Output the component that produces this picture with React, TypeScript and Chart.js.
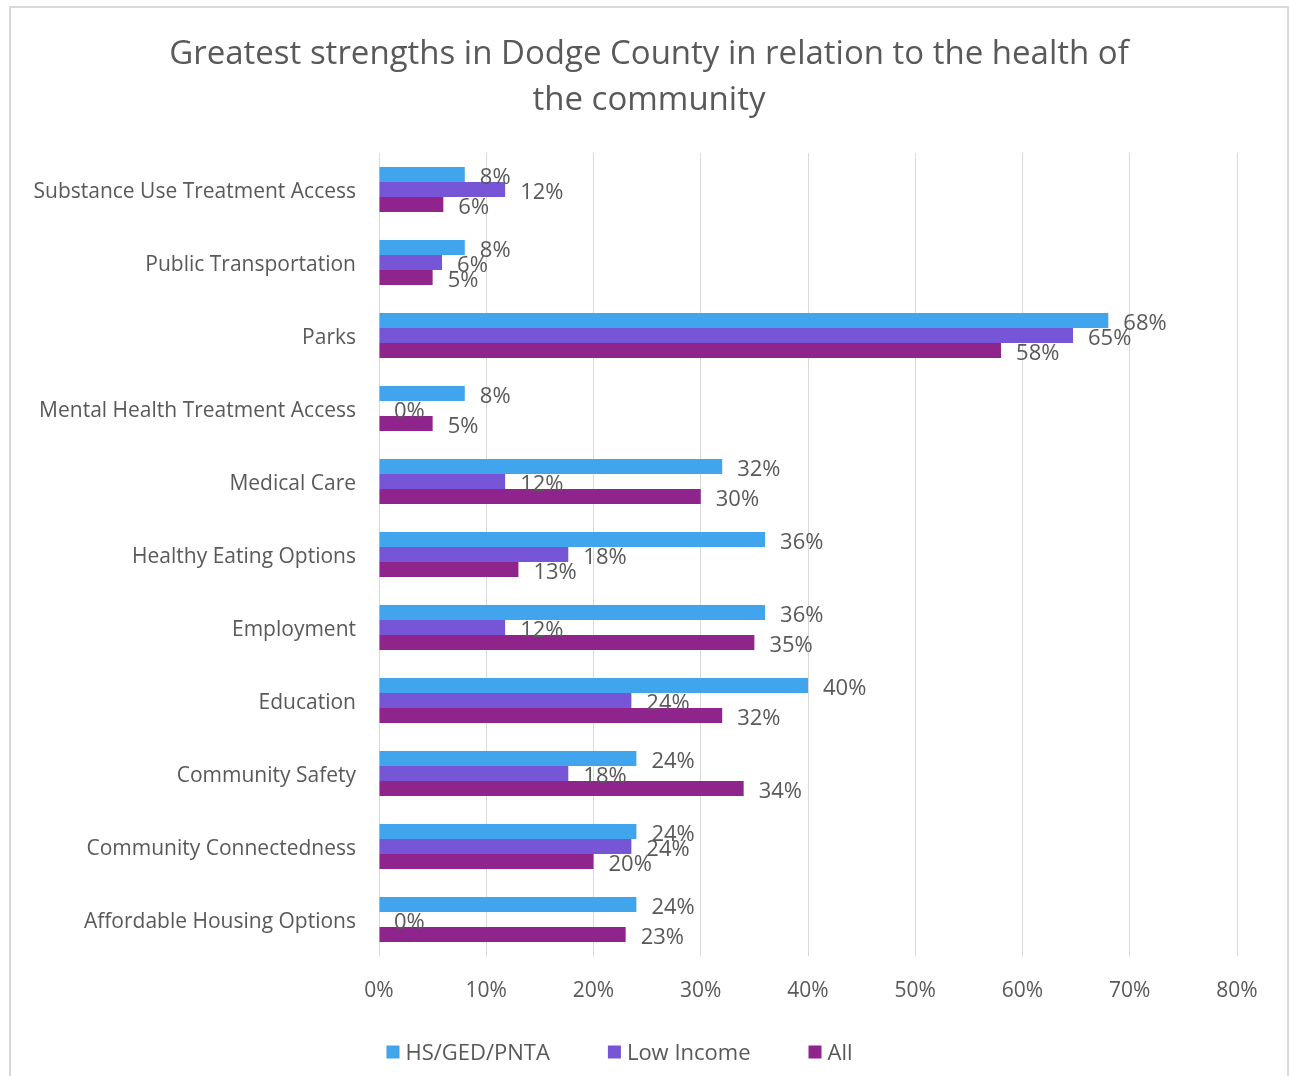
import React, { useEffect, useRef } from "react";
import { Chart, registerables } from "chart.js";

Chart.register(...registerables);

const categories = [
  "Substance Use Treatment Access",
  "Public Transportation",
  "Parks",
  "Mental Health Treatment Access",
  "Medical Care",
  "Healthy Eating Options",
  "Employment",
  "Education",
  "Community Safety",
  "Community Connectedness",
  "Affordable Housing Options",
];

const hsValues = [8, 8, 68, 8, 32, 36, 36, 40, 24, 24, 24];
const lowIncomeValues = [11.76, 5.88, 64.71, 0, 11.76, 17.65, 11.76, 23.53, 17.65, 23.53, 0];
const allValues = [6, 5, 58, 5, 30, 13, 35, 32, 34, 20, 23];

const seriesNames = ["HS/GED/PNTA", "Low Income", "All"];
const seriesColors = ["#41A5EE", "#7656D6", "#8E248C"];

const xTicks = [0, 10, 20, 30, 40, 50, 60, 70, 80];

const titleLines = [
  "Greatest strengths in Dodge County in relation to the health of",
  "the community",
];

const FONT = "'Open Sans', 'Noto Sans', sans-serif";
const TEXT = "#595959";

const titlePlugin = {
  id: "customTitle",
  afterDraw(chart: any) {
    const ctx = chart.ctx;
    ctx.save();
    ctx.font = `33px ${FONT}`;
    ctx.fillStyle = TEXT;
    ctx.textAlign = "center";
    ctx.textBaseline = "middle";
    titleLines.forEach((t, i) => ctx.fillText(t, 649, 55 + i * 46));
    ctx.restore();
  },
};

const labelPlugin = {
  id: "barLabels",
  afterDatasetsDraw(chart: any) {
    const ctx = chart.ctx;
    ctx.save();
    ctx.font = `22px ${FONT}`;
    ctx.fillStyle = TEXT;
    ctx.textAlign = "left";
    ctx.textBaseline = "middle";
    chart.data.datasets.forEach((ds: any, di: number) => {
      const meta = chart.getDatasetMeta(di);
      meta.data.forEach((bar: any, i: number) => {
        const v = ds.data[i];
        ctx.fillText(`${Math.round(v)}%`, bar.x + 15, bar.y + 3);
      });
    });
    ctx.restore();
  },
};

const legendPlugin = {
  id: "customLegend",
  afterDraw(chart: any) {
    const ctx = chart.ctx;
    ctx.save();
    ctx.font = `22px ${FONT}`;
    ctx.textBaseline = "middle";
    ctx.textAlign = "left";
    const box = 13;
    const gapBoxText = 6;
    const gapItems = 58;
    const widths = seriesNames.map((n) => box + gapBoxText + ctx.measureText(n).width);
    const total = widths.reduce((a, b) => a + b, 0) + gapItems * (seriesNames.length - 1);
    let x = 619.5 - total / 2;
    const y = 1052;
    seriesNames.forEach((n, i) => {
      ctx.fillStyle = seriesColors[i];
      ctx.fillRect(x, y - box / 2, box, box);
      ctx.fillStyle = TEXT;
      ctx.fillText(n, x + box + gapBoxText, y + 2);
      x += widths[i] + gapItems;
    });
    ctx.restore();
  },
};

export default function App() {
  const ref = useRef<HTMLCanvasElement | null>(null);
  useEffect(() => {
    if (!ref.current) return;
    const chart = new Chart(ref.current, {
      type: "bar",
      data: {
        labels: categories,
        datasets: [hsValues, lowIncomeValues, allValues].map((d, i) => ({
          label: seriesNames[i],
          data: d,
          backgroundColor: seriesColors[i],
          borderWidth: 0,
          categoryPercentage: 0.616,
          barPercentage: 1.0,
        })),
      },
      options: {
        indexAxis: "y",
        animation: false,
        responsive: false,
        maintainAspectRatio: false,
        layout: { padding: { left: 10, right: 52, top: 153, bottom: 0 } },
        plugins: {
          legend: { display: false },
          tooltip: { enabled: false },
          title: { display: false },
        },
        scales: {
          x: {
            min: 0,
            max: 80,
            afterBuildTicks(scale: any) {
              scale.ticks = xTicks.map((v) => ({ value: v }));
            },
            afterFit(scale: any) {
              scale.height = 120;
            },
            ticks: {
              color: TEXT,
              font: { family: FONT, size: 21 },
              padding: 22,
              callback: (v: any) => `${v}%`,
            },
            grid: { color: "#D9D9D9", drawTicks: false, lineWidth: 1 },
            border: { display: false },
          },
          y: {
            afterFit(scale: any) {
              scale.width = 369;
            },
            ticks: {
              color: TEXT,
              font: { family: FONT, size: 21 },
              padding: 15,
              labelOffset: 3,
            },
            grid: { display: false },
            border: { display: false },
          },
        },
      },
      plugins: [labelPlugin, legendPlugin, titlePlugin],
    });
    return () => chart.destroy();
  }, []);
  return (
    <div style={{ position: "absolute", left: 0, top: 0, width: 1289, height: 1076, overflow: "hidden", background: "#fff" }}>
      <div
        style={{
          position: "absolute",
          left: 9,
          top: 6,
          width: 1280,
          height: 1090,
          border: "2px solid #D9D9D9",
          boxSizing: "border-box",
        }}
      />
      <canvas ref={ref} width={1289} height={1076} style={{ position: "absolute", left: 0, top: 0, width: 1289, height: 1076 }} />
    </div>
  );
}
